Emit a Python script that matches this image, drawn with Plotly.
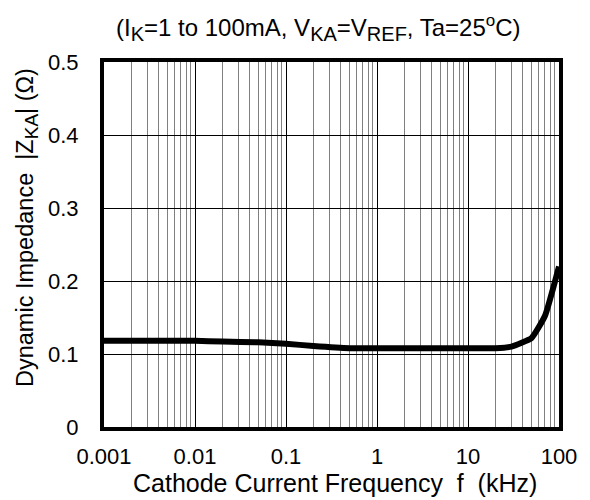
import plotly.graph_objects as go

freq_khz = [0.001, 0.002, 0.005, 0.01, 0.02, 0.05, 0.1, 0.2, 0.5, 1, 2, 5, 10, 20, 30, 50, 70, 100]
impedance_ohm = [0.118, 0.118, 0.118, 0.118, 0.117, 0.116, 0.114, 0.111, 0.108, 0.108, 0.108,
                 0.108, 0.108, 0.108, 0.110, 0.122, 0.152, 0.22]

x_tickvals = [0.001, 0.01, 0.1, 1, 10, 100]
x_ticktext = ["0.001", "0.01", "0.1", "1", "10", "100"]
y_tickvals = [0, 0.1, 0.2, 0.3, 0.4, 0.5]
y_ticktext = ["0", "0.1", "0.2", "0.3", "0.4", "0.5"]

font = "Liberation Sans, Arial, sans-serif"
NB = "\u00a0"

W, H = 590, 500
ML, MR, MT, MB = 104, 31, 62, 73
PW, PH = W - ML - MR, H - MT - MB


def sub(t, size=20):
    return "<sub><span style='font-size:%dpx'>%s</span></sub>" % (size, t)


title_text = ("(I" + sub("K") + "=1 to 100mA, V" + sub("KA") + "=V" + sub("REF")
              + ", Ta=25<sup><span style='font-size:17px'>o</span></sup>C)")
ytitle_text = "Dynamic Impedance" + NB + NB + "|Z" + sub("KA", 19) + "| (Ω)"
xtitle_text = "Cathode Current Frequency" + NB + NB + "f" + NB + NB + "(kHz)"


def px_to_paper_x(px):
    return (px - ML) / PW


def px_to_paper_y(py):
    return (H - MB - py) / PH


fig = go.Figure()
fig.add_trace(go.Scatter(
    x=freq_khz, y=impedance_ohm, mode="lines",
    line=dict(color="black", width=6, shape="spline", smoothing=0.4),
    showlegend=False, hoverinfo="skip",
))

fig.update_layout(
    width=W, height=H,
    margin=dict(l=ML, r=MR, t=MT, b=MB),
    paper_bgcolor="white", plot_bgcolor="white",
    font=dict(family=font, size=23, color="black"),
)

fig.add_annotation(text=title_text, xref="paper", yref="paper",
                   x=px_to_paper_x(318), y=px_to_paper_y(28),
                   xanchor="center", yanchor="middle", showarrow=False,
                   font=dict(family=font, size=24, color="black"))
fig.add_annotation(text=ytitle_text, xref="paper", yref="paper",
                   x=px_to_paper_x(27), y=px_to_paper_y(228), textangle=-90,
                   xanchor="center", yanchor="middle", showarrow=False,
                   font=dict(family=font, size=23.5, color="black"))
fig.add_annotation(text=xtitle_text, xref="paper", yref="paper",
                   x=px_to_paper_x(335), y=px_to_paper_y(483),
                   xanchor="center", yanchor="middle", showarrow=False,
                   font=dict(family=font, size=25, color="black"))

fig.update_xaxes(
    type="log", range=[-3, 2],
    tickvals=x_tickvals, ticktext=x_ticktext,
    ticks="", showline=True, linewidth=4, linecolor="black", mirror=True,
    showgrid=True, gridcolor="black", gridwidth=1,
    minor=dict(dtick="D1", showgrid=True, gridcolor="#808080", gridwidth=1, ticks=""),
    tickfont=dict(size=22), ticklabelstandoff=7,
    zeroline=False,
)

fig.update_yaxes(
    range=[0, 0.5],
    tickvals=y_tickvals, ticktext=y_ticktext,
    ticks="", showline=True, linewidth=4, linecolor="black", mirror=True,
    showgrid=True, gridcolor="black", gridwidth=1,
    tickfont=dict(size=22), ticklabelstandoff=17,
    zeroline=False,
)

fig.write_html("out.html",
               config={"displayModeBar": False},
               post_script="document.body.style.margin='0';document.body.style.padding='0';")
